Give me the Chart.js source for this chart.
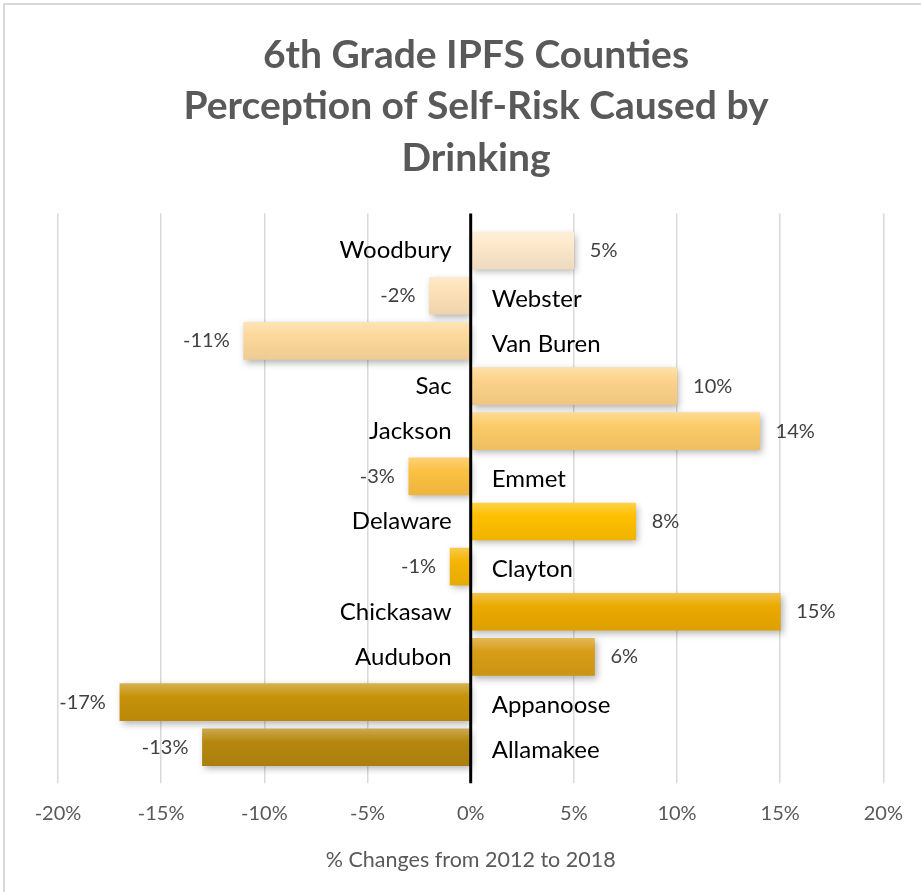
<!DOCTYPE html>
<html>
<head>
<meta charset="utf-8">
<script src="https://cdn.jsdelivr.net/npm/chart.js@4.4.1/dist/chart.umd.min.js"></script>
<style>
  html, body { margin: 0; padding: 0; background: #fff; overflow: hidden; }
  #marco { position: absolute; left: 3px; top: 3px; width: 960px; height: 940px; border: 2px solid #d9d9d9; }
  #lienzo { position: absolute; left: 0; top: 0; width: 921px; height: 892px; }
</style>
</head>
<body>
<div id="marco"></div>
<div id="lienzo"><canvas id="grafico"></canvas></div>
<script>
// Condados (de arriba hacia abajo) y cambio porcentual 2012-2018
const condados = ['Woodbury', 'Webster', 'Van Buren', 'Sac', 'Jackson', 'Emmet',
                  'Delaware', 'Clayton', 'Chickasaw', 'Audubon', 'Appanoose', 'Allamakee'];
const cambios = [5, -2, -11, 10, 14, -3, 8, -1, 15, 6, -17, -13];
const titulo = ['6th Grade IPFS Counties', 'Perception of Self-Risk Caused by', 'Drinking'];
const tituloEje = '% Changes from 2012 to 2018';

// Paleta: de durazno claro a dorado oscuro
const colores = ['#FDE8CA', '#FDE1B7', '#FCD89B', '#FDD38A', '#FCCB68', '#FBC142',
                 '#FFC000', '#F5B505', '#EBAA00', '#D79D16', '#C6920A', '#B5870E'];

const GROSOR = 37;

function mezclar(hex, otro, t) {
    const a = parseInt(hex.slice(1), 16), b = parseInt(otro.slice(1), 16);
    const ch = (n, s) => (n >> s) & 255;
    const r = Math.round(ch(a, 16) + (ch(b, 16) - ch(a, 16)) * t);
    const g = Math.round(ch(a, 8) + (ch(b, 8) - ch(a, 8)) * t);
    const bl = Math.round(ch(a, 0) + (ch(b, 0) - ch(a, 0)) * t);
    return `rgb(${r},${g},${bl})`;
}

// Degradado vertical de cada barra (más claro arriba)
function degradado(ctx) {
    const chart = ctx.chart;
    const i = ctx.dataIndex;
    const base = colores[i];
    if (!chart.chartArea || i === undefined || !chart.scales.y) return base;
    const yc = chart.scales.y.getPixelForValue(i);
    const g = chart.ctx.createLinearGradient(0, yc - GROSOR / 2, 0, yc + GROSOR / 2);
    g.addColorStop(0, mezclar(base, '#ffffff', 0.28));
    g.addColorStop(0.35, base);
    g.addColorStop(1, mezclar(base, '#000000', 0.06));
    return g;
}

// Sombra de las barras, línea del cero y etiquetas
const rotulos = {
    id: 'rotulos',
    beforeDatasetsDraw(chart) {
        const c = chart.ctx;
        c.save();
        c.shadowColor = 'rgba(0,0,0,0.3)';
        c.shadowBlur = 7;
        c.shadowOffsetX = 2;
        c.shadowOffsetY = 3;
    },
    afterDatasetsDraw(chart) {
        const c = chart.ctx;
        c.restore();
        const x0 = chart.scales.x.getPixelForValue(0);
        const area = chart.chartArea;

        c.save();
        c.strokeStyle = '#000';
        c.lineWidth = 3;
        c.beginPath();
        c.moveTo(x0, area.top);
        c.lineTo(x0, area.bottom + 8);
        c.stroke();

        c.textBaseline = 'middle';
        chart.getDatasetMeta(0).data.forEach((barra, i) => {
            const v = cambios[i];
            const yc = barra.y;
            c.font = '24px Lato';
            c.fillStyle = '#000';
            if (v >= 0) {
                c.textAlign = 'right';
                c.fillText(condados[i], x0 - 19, yc);
            } else {
                c.textAlign = 'left';
                c.fillText(condados[i], x0 + 21, yc + 3);
            }
            c.font = '20px Lato';
            c.fillStyle = '#404040';
            if (v >= 0) {
                c.textAlign = 'left';
                c.fillText(v + '%', barra.x + 16, yc);
            } else {
                c.textAlign = 'right';
                c.fillText(v + '%', barra.x - 14, yc);
            }
        });
        c.restore();
    }
};

new Chart(document.getElementById('grafico'), {
    type: 'bar',
    data: {
        datasets: [{
            data: cambios.map((v, i) => ({ x: v, y: i })),
            backgroundColor: degradado,
            borderWidth: 0,
            barThickness: GROSOR
        }]
    },
    options: {
        indexAxis: 'y',
        responsive: true,
        maintainAspectRatio: false,
        animation: false,
        layout: { padding: { left: 58, right: 27, top: 0, bottom: 0 } },
        plugins: {
            legend: { display: false },
            tooltip: { enabled: false },
            title: {
                display: true,
                text: titulo,
                color: '#595959',
                font: { family: 'Lato', size: 39, weight: 'bold', lineHeight: 1.33 },
                padding: { top: 29, bottom: 29 }
            }
        },
        scales: {
            x: {
                type: 'linear',
                min: -20,
                max: 20,
                border: { display: false },
                grid: {
                    color: '#d9d9d9',
                    lineWidth: 1.5,
                    tickLength: 8
                },
                ticks: {
                    stepSize: 5,
                    padding: 18,
                    color: '#595959',
                    font: { family: 'Lato', size: 20 },
                    callback: v => v + '%'
                },
                title: {
                    display: true,
                    text: tituloEje,
                    color: '#595959',
                    font: { family: 'Lato', size: 21.5 },
                    padding: { top: 4, bottom: 19 }
                }
            },
            y: {
                type: 'linear',
                display: false,
                reverse: true,
                offset: false,
                min: -0.82,
                max: 11.62
            }
        }
    },
    plugins: [rotulos]
});
</script>
</body>
</html>
